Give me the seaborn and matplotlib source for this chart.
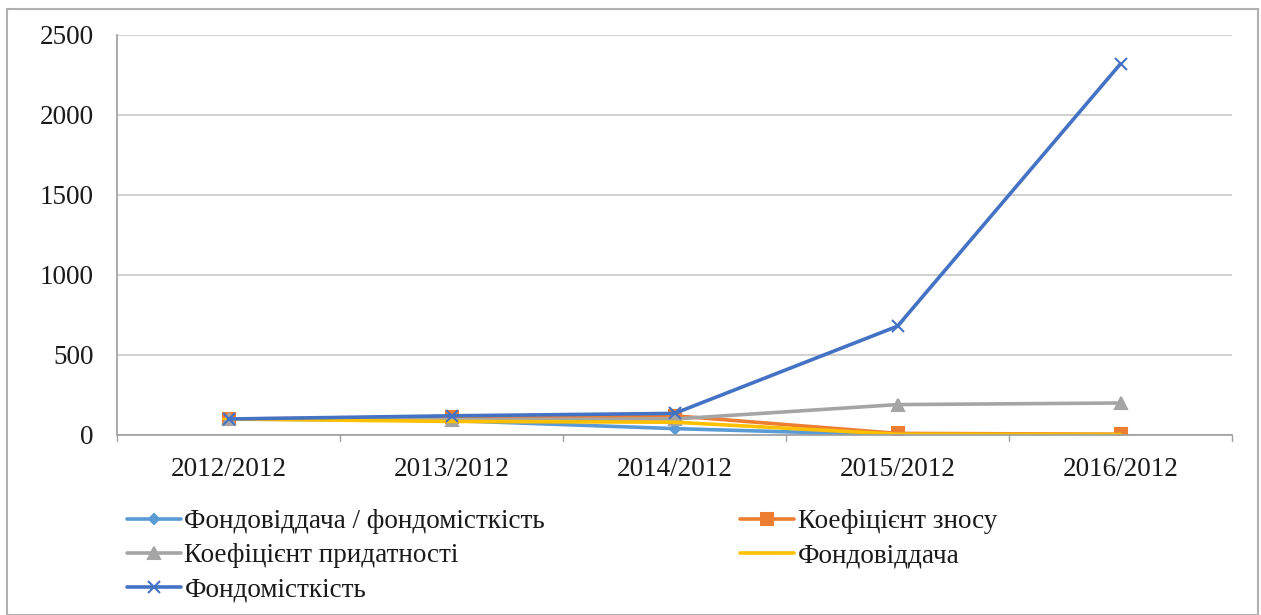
import matplotlib
matplotlib.use("Agg")
import matplotlib.pyplot as plt
import seaborn as sns
import pandas as pd
from matplotlib.patches import Rectangle

categories = ["2012/2012", "2013/2012", "2014/2012", "2015/2012", "2016/2012"]
series_names = ["Фондовіддача / фондомісткість", "Коефіцієнт зносу",
                "Коефіцієнт придатності", "Фондовіддача", "Фондомісткість"]
v_ratio = [100, 90, 40, 0, 0]
v_znos = [100, 110, 120, 10, 5]
v_prydat = [100, 95, 100, 190, 200]
v_fondovid = [100, 85, 80, 5, 3]
v_fondomist = [100, 120, 135, 680, 2320]
yticks = [0, 500, 1000, 1500, 2000, 2500]

values = [v_ratio, v_znos, v_prydat, v_fondovid, v_fondomist]
colors = ["#5B9BD5", "#ED7D31", "#A5A5A5", "#FFC000", "#4472C4"]
markers = ["D", "s", "^", "_", "x"]
msizes = [5, 9, 9, 10, 9]

sns.set_theme(style="white")
plt.rcParams["font.family"] = ["Liberation Serif", "DejaVu Serif"]

FS = 19.5
TXT = "#1a1a1a"

fig = plt.figure(figsize=(12.61, 6.15), dpi=100)
ax = fig.add_axes([117/1261, 1-435/615, (1232-117)/1261, (435-35)/615])

rows = []
for name, vals in zip(series_names, values):
    for c, v in zip(categories, vals):
        rows.append({"cat": c, "val": v, "series": name})
df = pd.DataFrame(rows)

for name, col, mk, ms in zip(series_names, colors, markers, msizes):
    sub = df[df["series"] == name]
    sns.lineplot(data=sub, x="cat", y="val", ax=ax, color=col, linewidth=2.6,
                 marker=mk, markersize=ms, markeredgecolor=col, markerfacecolor=col,
                 markeredgewidth=1.5, label=name, sort=False)

ax.set_xlim(-0.5, 4.5)
ax.set_ylim(0, 2500)
ax.set_yticks(yticks)
ax.set_yticklabels([str(t) for t in yticks], fontsize=FS, color=TXT)
ax.set_xticks(range(len(categories)))
ax.set_xticklabels(categories, fontsize=FS, color=TXT)
ax.tick_params(axis="x", length=0, pad=16)
ax.tick_params(axis="y", length=8, direction="out", color="#A0A0A0", width=1, pad=9)
for b in [-0.5, 0.5, 1.5, 2.5, 3.5, 4.5]:
    ax.plot([b, b], [0, -40], color="#A0A0A0", lw=1, clip_on=False)

ax.grid(axis="y", color="#C8C8C8", lw=1.2)
ax.set_axisbelow(True)
for s in ["top", "right"]:
    ax.spines[s].set_visible(False)
ax.spines["left"].set_color("#A0A0A0")
ax.spines["bottom"].set_color("#A0A0A0")
ax.set_xlabel("")
ax.set_ylabel("")

h, l = ax.get_legend_handles_labels()
if ax.legend_:
    ax.legend_.remove()
order = [0, 2, 4, 1, 3]
leg = fig.legend([h[i] for i in order], [l[i] for i in order], ncol=2,
                 loc="upper left", bbox_to_anchor=(127/1261, 1-509/615),
                 frameon=False, fontsize=FS, handlelength=2.0, handletextpad=0.12,
                 columnspacing=7.2, labelspacing=0.34, borderaxespad=0, borderpad=0)
for t in leg.get_texts():
    t.set_color(TXT)

fig.patches.append(Rectangle((7/1261, 0.0), (1258-7)/1261, 1-9/615, transform=fig.transFigure,
                             fill=False, edgecolor="#B0B0B0", lw=1.5))

fig.savefig("out.png", dpi=100)
